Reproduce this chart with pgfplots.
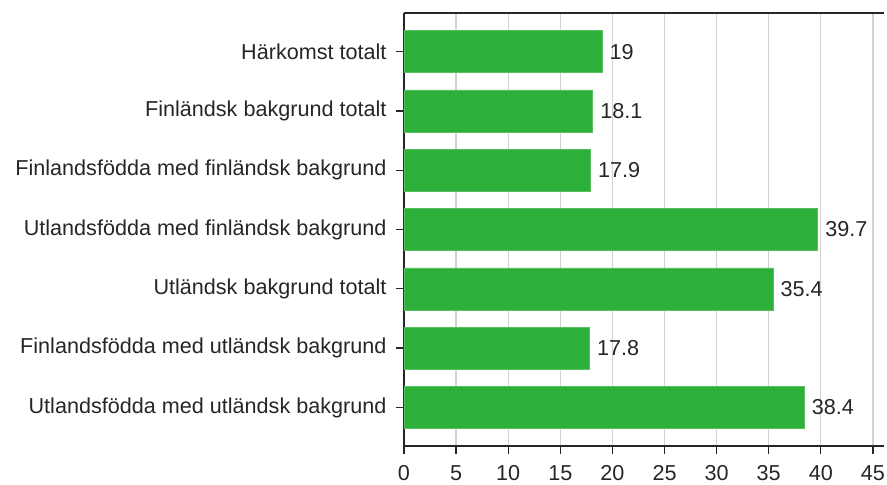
\documentclass[border=0pt]{standalone}
\usepackage{fontspec}
\setmainfont{Liberation Sans}
\usepackage{pgfplots}
\pgfplotsset{compat=1.18}
\definecolor{bargreen}{RGB}{45,176,57}
\definecolor{gridgray}{RGB}{210,210,210}
\begin{document}
\begin{tikzpicture}
\begin{axis}[
  scale only axis,
  width=480pt, height=433pt,
  xbar,
  xmin=0, xmax=46.06,
  ymin=-0.65, ymax=6.65,
  y dir=reverse,
  bar width=42pt,
  axis x line=box,
  axis y line=left,
  axis line style={-, line width=1.3pt, black!85},
  xtick={0,5,...,45},
  xtick pos=bottom,
  ytick={0,...,6},
  yticklabels={Härkomst totalt,Finländsk bakgrund totalt,Finlandsfödda med finländsk bakgrund,Utlandsfödda med finländsk bakgrund,Utländsk bakgrund totalt,Finlandsfödda med utländsk bakgrund,Utlandsfödda med utländsk bakgrund},
  extra y ticks={-0.64,6.64},
  extra y tick labels={},
  extra y tick style={ymajorgrids=true, major tick length=0pt, major grid style={black!85, line width=1.4pt}},
  tick align=outside,
  major tick length=8pt,
  tick style={line width=1.3pt, black!85},
  xmajorgrids,
  major grid style={gridgray, line width=1.3pt},
  ticklabel style={font=\fontsize{21.6}{26}\selectfont, text=black!85},
  yticklabel style={xshift=-6pt},
  xticklabel style={yshift=-8pt},
  /pgf/number format/assume math mode=true,
  nodes near coords,
  nodes near coords style={font=\fontsize{21.6}{26}\selectfont, text=black!85, anchor=west, xshift=4pt},
  point meta=explicit symbolic,
  clip=false,
]
\addplot[fill=bargreen, draw=bargreen!80!white, line width=0.6pt] table[meta=lbl] {
x y lbl
19 0 19
18.1 1 18.1
17.9 2 17.9
39.7 3 39.7
35.4 4 35.4
17.8 5 17.8
38.4 6 38.4
};
\end{axis}
\pgfresetboundingbox
\useasboundingbox (current axis.south west) ++(-404pt,-39pt) rectangle ++(887pt,485pt);
\end{tikzpicture}
\end{document}
